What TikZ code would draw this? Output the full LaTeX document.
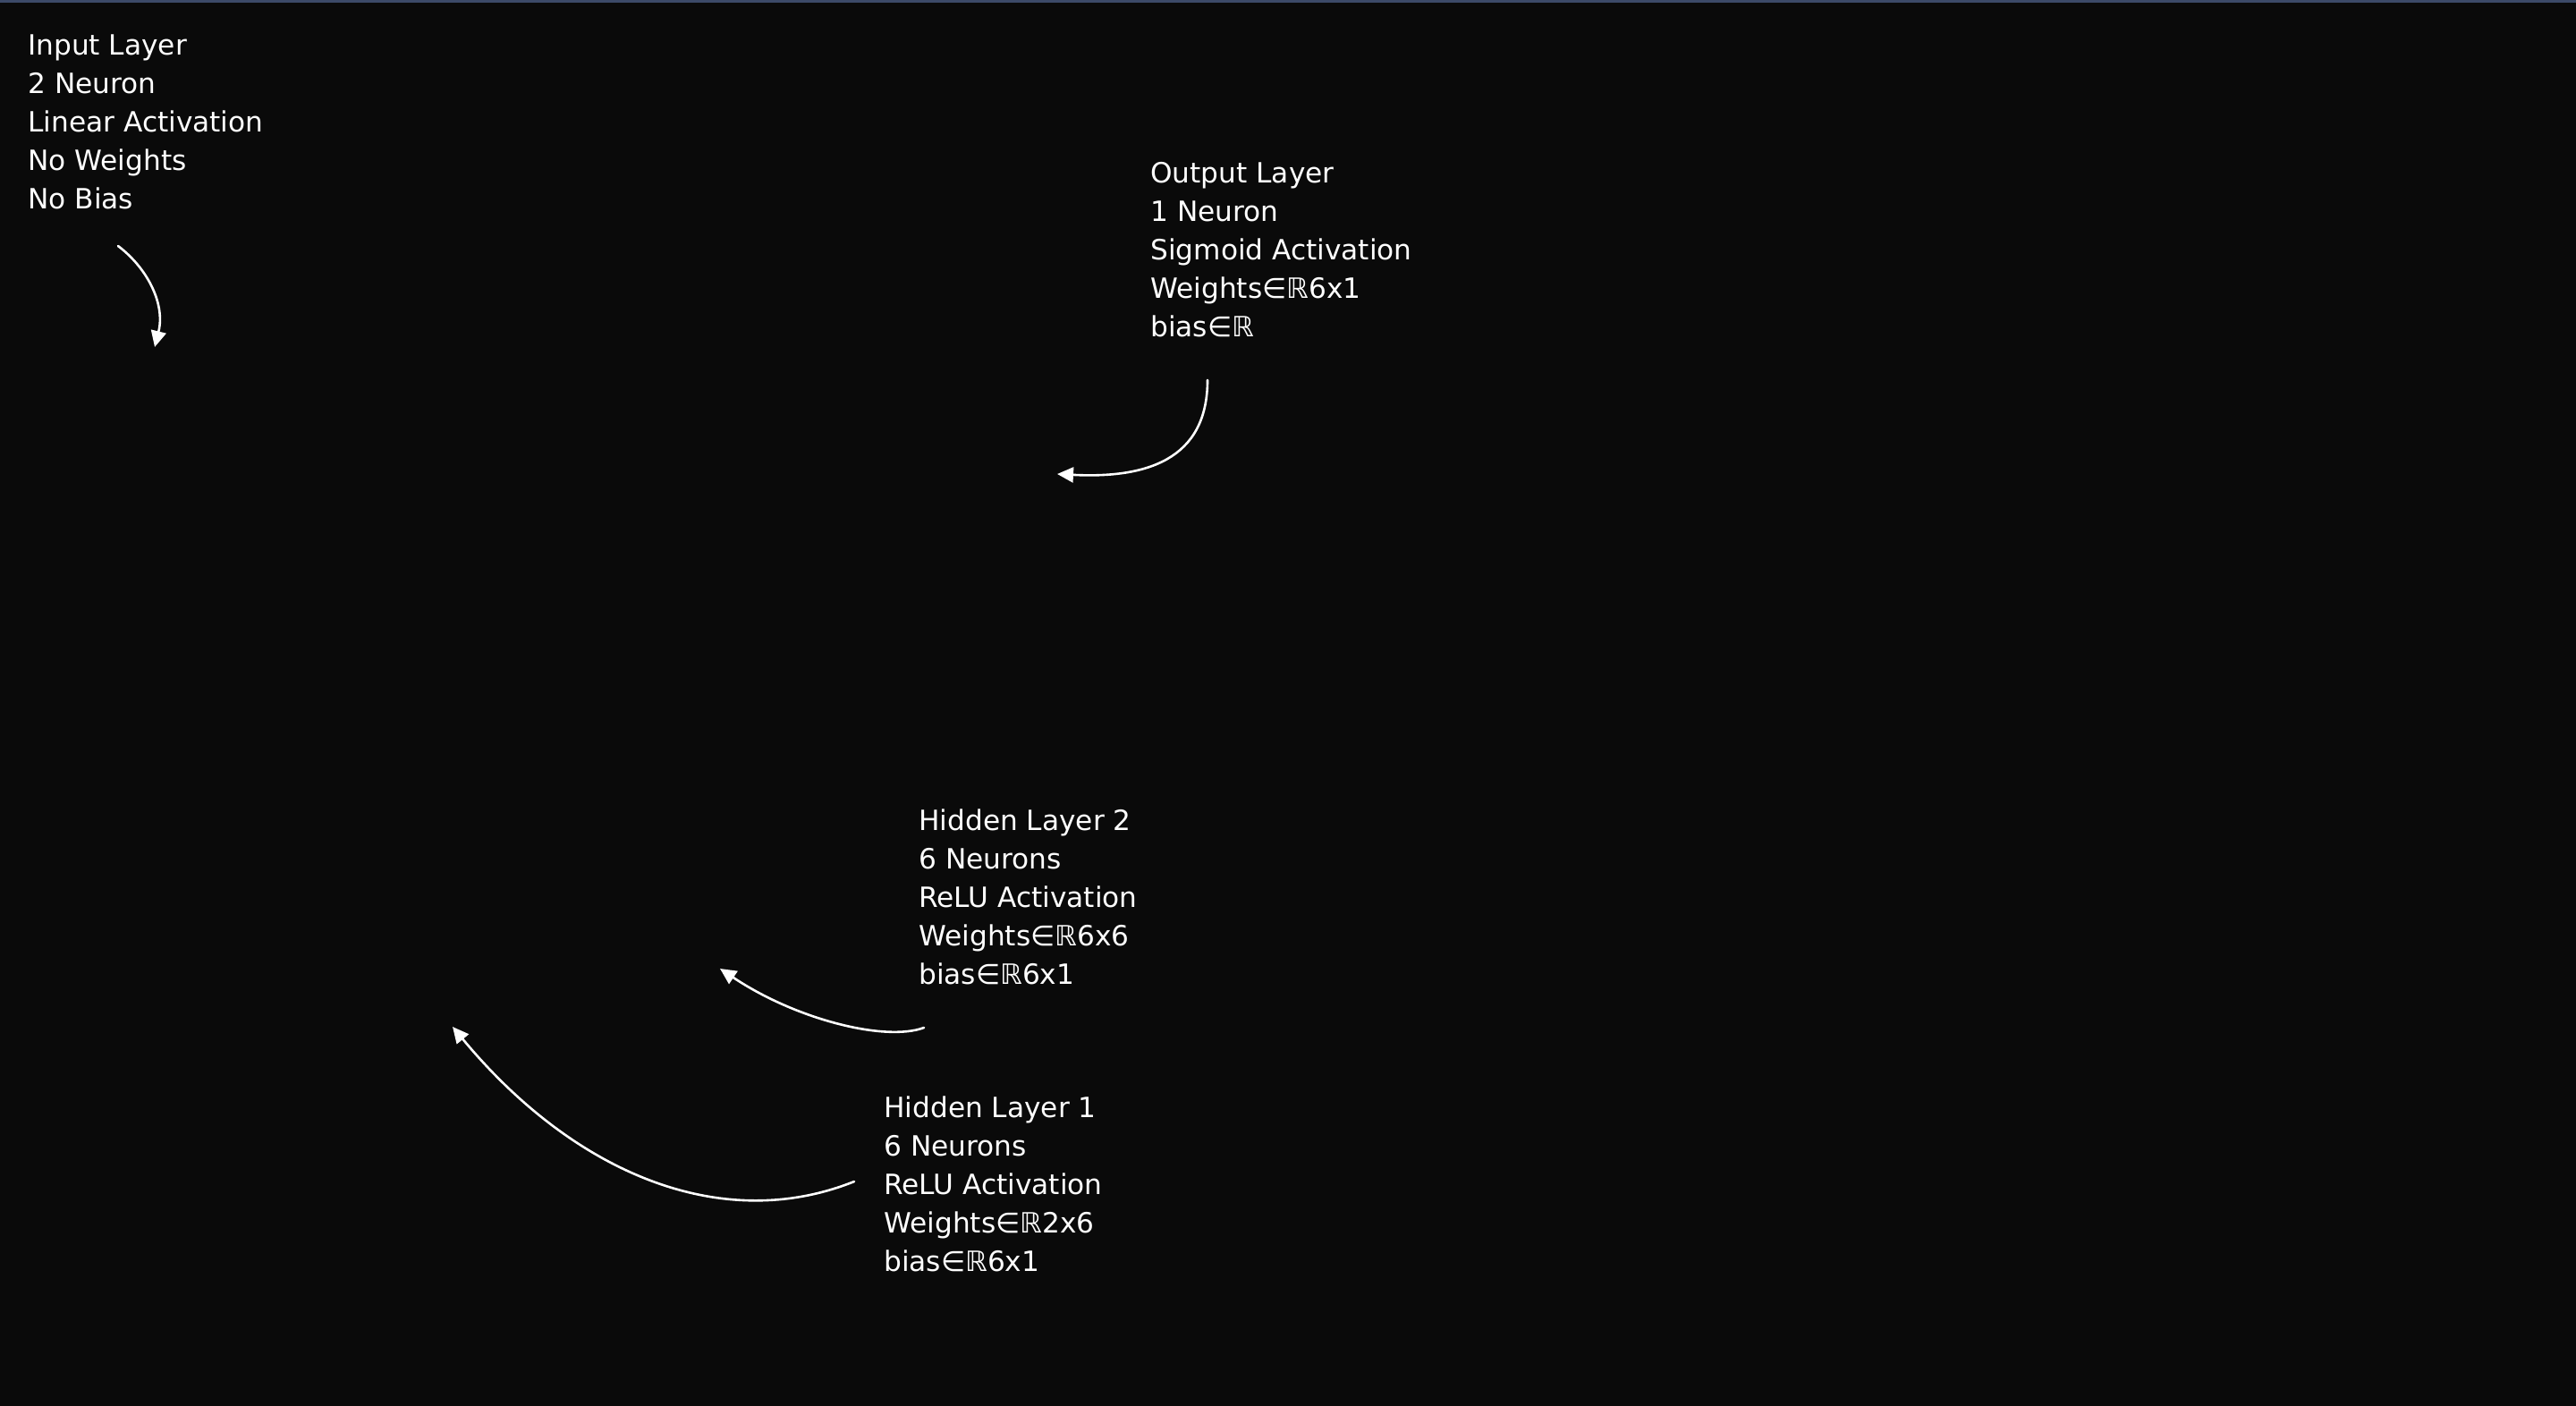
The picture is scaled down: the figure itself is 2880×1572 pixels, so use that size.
\documentclass[tikz,border=0pt]{standalone}
\usepackage{fontspec}
\setmainfont{DejaVu Sans}
\usetikzlibrary{arrows.meta}
\definecolor{board}{RGB}{10,10,10}
\definecolor{topline}{RGB}{60,74,104}
\tikzset{every scope/.style={>={Triangle[length=9pt,width=8.5pt]},line width=1.3pt}}
\tikzset{
  note/.style={anchor=base west,inner sep=0pt,align=left,text=white,
    font=\fontsize{15.6}{21.5}\selectfont},
  pointer/.style={->,draw=white,line cap=round}
}

\begin{document}
\begin{tikzpicture}[x=0.5pt,y=-0.5pt]
      \fill[board] (0,0) rectangle (2880,1572);
      \fill[topline] (0,0) rectangle (2880,3);
      \useasboundingbox (0,0) rectangle (2880,1572);
      % anchor is the baseline of the last line
      \node[note] (input) at (30,234) {Input Layer\\2 Neuron\\Linear Activation\\No Weights\\No Bias};
      \node[note] (output) at (1285,377) {Output Layer\\1 Neuron\\Sigmoid Activation\\Weights∈ℝ6x1\\bias∈ℝ};
      \node[note] (hidden2) at (1026,1100) {Hidden Layer 2\\6 Neurons\\ReLU Activation\\Weights∈ℝ6x6\\bias∈ℝ6x1};
      \node[note] (hidden1) at (987,1421) {Hidden Layer 1\\6 Neurons\\ReLU Activation\\Weights∈ℝ2x6\\bias∈ℝ6x1};
      \coordinate (input-tail) at (132,275);
      \coordinate (input-tip) at (173,388);
      \coordinate (output-tail) at (1350,425);
      \coordinate (output-tip) at (1182,530);
      \coordinate (hidden2-tail) at (1033,1149);
      \coordinate (hidden2-tip) at (805,1083);
      \coordinate (hidden1-tail) at (955,1321);
      \coordinate (hidden1-tip) at (506,1148);
      \draw[pointer] (input-tail) .. controls +(33,25) and +(12,-48) .. (input-tip);
      \draw[pointer] (output-tail) .. controls +(0,90) and +(98,5) .. (output-tip);
      \draw[pointer] (hidden2-tail) .. controls +(-43,16) and +(85,57) .. (hidden2-tip);
      \draw[pointer] (hidden1-tail) .. controls +(-150,60) and +(134,162) .. (hidden1-tip);
    \end{tikzpicture}
\end{document}
